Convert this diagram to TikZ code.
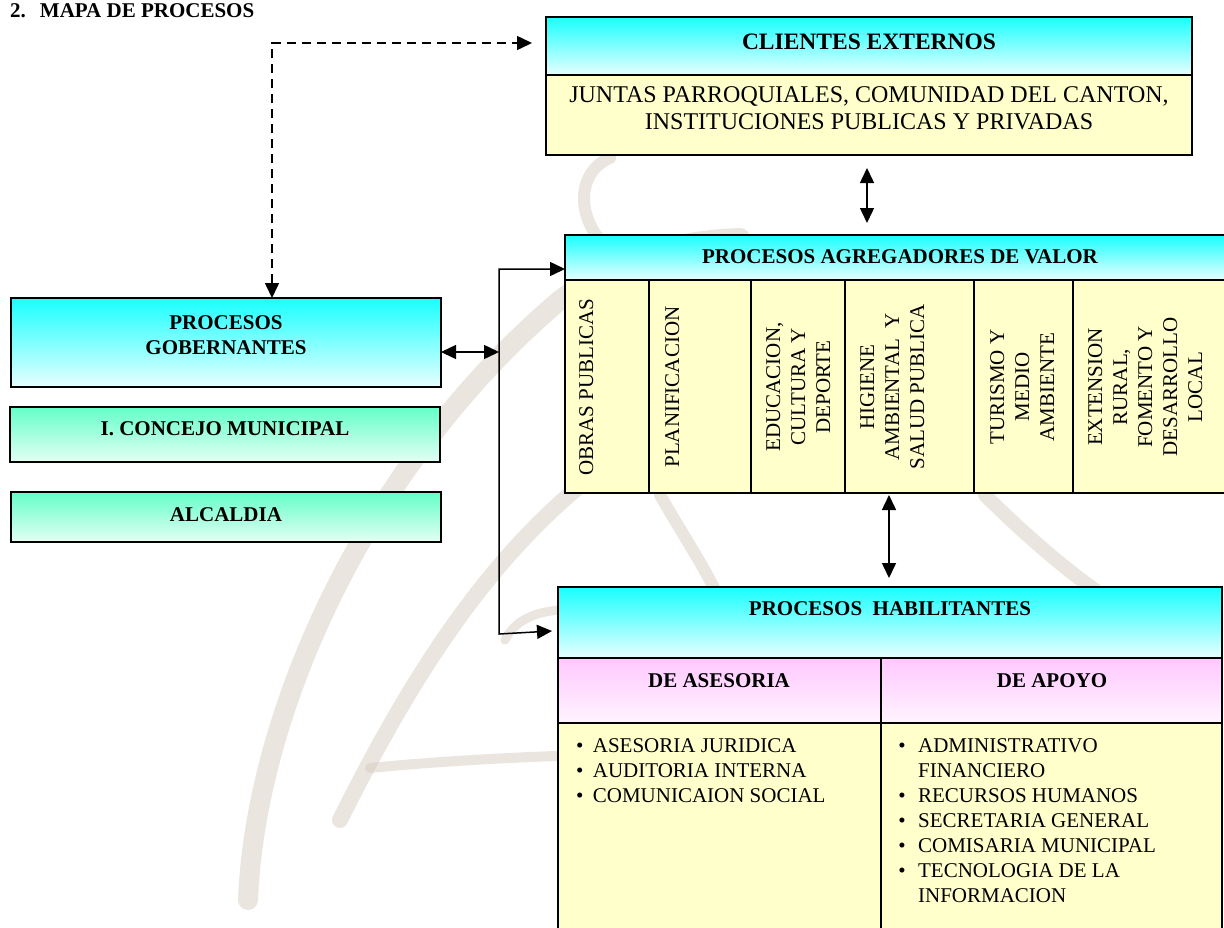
\documentclass[tikz,border=0pt]{standalone}
\usepackage{fontspec}
\setmainfont{Liberation Serif}
\usetikzlibrary{arrows.meta,calc}
\definecolor{cyTop}{RGB}{25,255,255}
\definecolor{cyBot}{RGB}{232,255,255}
\definecolor{grTop}{RGB}{100,255,200}
\definecolor{grBot}{RGB}{228,255,244}
\definecolor{pkTop}{RGB}{255,200,255}
\definecolor{pkBot}{RGB}{255,244,255}
\definecolor{ylw}{RGB}{255,255,204}
\definecolor{wmc}{RGB}{210,200,186}
\newcommand\myfs[2]{\fontsize{#1}{#2}\selectfont}
\begin{document}
\begin{tikzpicture}[x=1pt,y=-1pt,
  box/.style={draw=black,line width=1.6pt,inner sep=0pt,outer sep=0pt,anchor=north west},
  cybox/.style={box,top color=cyTop,bottom color=cyBot},
  grbox/.style={box,top color=grTop,bottom color=grBot},
  pkbox/.style={box,top color=pkTop,bottom color=pkBot},
  ylbox/.style={box,fill=ylw},
  lbl/.style={inner sep=0pt,align=center},
  hb/.style={lbl,font=\bfseries\myfs{21}{25}},
  vt/.style={lbl,rotate=90,anchor=north,font=\myfs{21}{25}},
  tip/.tip={Triangle[length=15pt,width=14pt]},
  arr/.style={line width=1.5pt,tip-tip},
  dsh/.style={line width=1.5pt,dash pattern=on 9pt off 6pt,tip-tip},
  wmark/.style={draw=wmc,line cap=round,opacity=0.45},
  sep/.style={line width=1.6pt}
]
\useasboundingbox (0,0) rectangle (1224,927);
\fill[white] (0,0) rectangle (1224,927);

% watermark
\draw[wmark,line width=20pt] (248,900) .. controls (255,720) and (360,470) .. (560,300) .. controls (620,255) and (680,240) .. (740,238);
\draw[wmark,line width=16pt] (340,820) .. controls (400,700) and (480,560) .. (600,470);
\draw[wmark,line width=10pt] (370,768) .. controls (430,762) and (500,758) .. (556,756);
\draw[wmark,line width=9pt] (505,640) .. controls (515,620) and (535,612) .. (560,610);
\draw[wmark,line width=12pt] (600,240) .. controls (575,210) and (580,170) .. (610,158);
\draw[wmark,line width=14pt] (985,495) .. controls (1020,530) and (1060,565) .. (1095,590);
\draw[wmark,line width=12pt] (660,495) .. controls (680,530) and (700,560) .. (715,590);

% title
\node[anchor=base west,inner sep=0pt,font=\bfseries\myfs{21}{25}] (title) at (10,17) {2.\hspace{14pt}MAPA DE PROCESOS};

% clientes externos
\node[cybox,minimum width=646pt,minimum height=58pt] (cliH) at (546,17) {};
\node[hb,font=\bfseries\myfs{23.5}{27}] (cliT) at (869,42) {CLIENTES EXTERNOS};
\node[ylbox,minimum width=646pt,minimum height=80pt] (cliB) at (546,75) {};
\node[lbl,font=\myfs{24}{26.5}] (cliL) at (869,108) {JUNTAS PARROQUIALES, COMUNIDAD DEL CANTON,\\INSTITUCIONES PUBLICAS Y PRIVADAS};

% procesos gobernantes
\node[cybox,minimum width=430pt,minimum height=89pt] (gob) at (11,298) {};
\node[hb] (gobT) at (226,335) {PROCESOS\\GOBERNANTES};
\node[grbox,minimum width=430pt,minimum height=55pt] (con) at (10,407) {};
\node[hb] (conT) at (225,429) {I. CONCEJO MUNICIPAL};
\node[grbox,minimum width=430pt,minimum height=50pt] (alc) at (11,492) {};
\node[hb] (alcT) at (226,515) {ALCALDIA};

% procesos agregadores de valor
\node[cybox,minimum width=665pt,minimum height=45pt] (agH) at (565,235) {};
\node[hb] (agT) at (900,257) {PROCESOS AGREGADORES DE VALOR};
\node[ylbox,minimum width=665pt,minimum height=213pt] (agB) at (565,280) {};
\foreach \cx in {649,751,845,974,1073}{\draw[sep] (\cx,280) -- (\cx,493);}
\node[vt] (v1) at (579,387) {OBRAS PUBLICAS};
\node[vt] (v2) at (665,387) {PLANIFICACION};
\node[vt] (v3) at (766,387) {EDUCACION,\\CULTURA Y\\DEPORTE};
\node[vt] (v4) at (860,387) {HIGIENE\\AMBIENTAL \ Y\\SALUD PUBLICA};
\node[vt] (v5) at (990,387) {TURISMO Y\\MEDIO\\AMBIENTE};
\node[vt] (v6) at (1088,387) {EXTENSION\\RURAL,\\FOMENTO Y\\DESARROLLO\\LOCAL};

% procesos habilitantes
\node[cybox,minimum width=664pt,minimum height=71pt] (habH) at (558,587) {};
\node[hb] (habT) at (890,609) {PROCESOS\ \ HABILITANTES};
\node[pkbox,minimum width=323pt,minimum height=65pt] (asH) at (558,658) {};
\node[hb] (asT) at (719,681) {DE ASESORIA};
\node[pkbox,minimum width=341pt,minimum height=65pt] (apH) at (881,658) {};
\node[hb] (apT) at (1052,681) {DE APOYO};
\node[ylbox,minimum width=323pt,minimum height=220pt] (asB) at (558,723) {};
\node[ylbox,minimum width=341pt,minimum height=220pt] (apB) at (881,723) {};
\node[inner sep=0pt,anchor=north west,font=\myfs{21}{25}] (asL) at (575.8,734.5) {%
  \begin{tabular}{@{}l@{\hspace{9.5pt}}l@{}}
  \textbullet & ASESORIA JURIDICA\\
  \textbullet & AUDITORIA INTERNA\\
  \textbullet & COMUNICAION SOCIAL
  \end{tabular}};
\node[inner sep=0pt,anchor=north west,font=\myfs{21}{25}] (apL) at (898.1,734.5) {%
  \begin{tabular}{@{}l@{\hspace{12.5pt}}l@{}}
  \textbullet & ADMINISTRATIVO\\
   & FINANCIERO\\
  \textbullet & RECURSOS HUMANOS\\
  \textbullet & SECRETARIA GENERAL\\
  \textbullet & COMISARIA MUNICIPAL\\
  \textbullet & TECNOLOGIA DE LA\\
   & INFORMACION
  \end{tabular}};

% connectors
\coordinate (dcorner) at (272,43);
\draw[dsh] (gob.north -| dcorner) -- (dcorner) -- ($(cliH.west |- dcorner)+(-14,0)$);
\coordinate (vtop) at (499,269);
\coordinate (vmid) at (499,352);
\coordinate (vbot) at (499,634);
\coordinate (hbtip) at (552,631);
\draw[arr] (gob.east |- vmid) -- (vmid);
\draw[arr,line join=miter] (hbtip) -- (vbot) -- (vtop) -- (agH.west |- vtop);
\draw[arr] ($(cliB.south)+(-2,13)$) -- ($(agH.north)+(-30.5,-12)$);
\draw[arr] ($(agB.south)+(-8.5,2)$) -- ($(habH.north)+(-1,-9)$);
\end{tikzpicture}
\end{document}
